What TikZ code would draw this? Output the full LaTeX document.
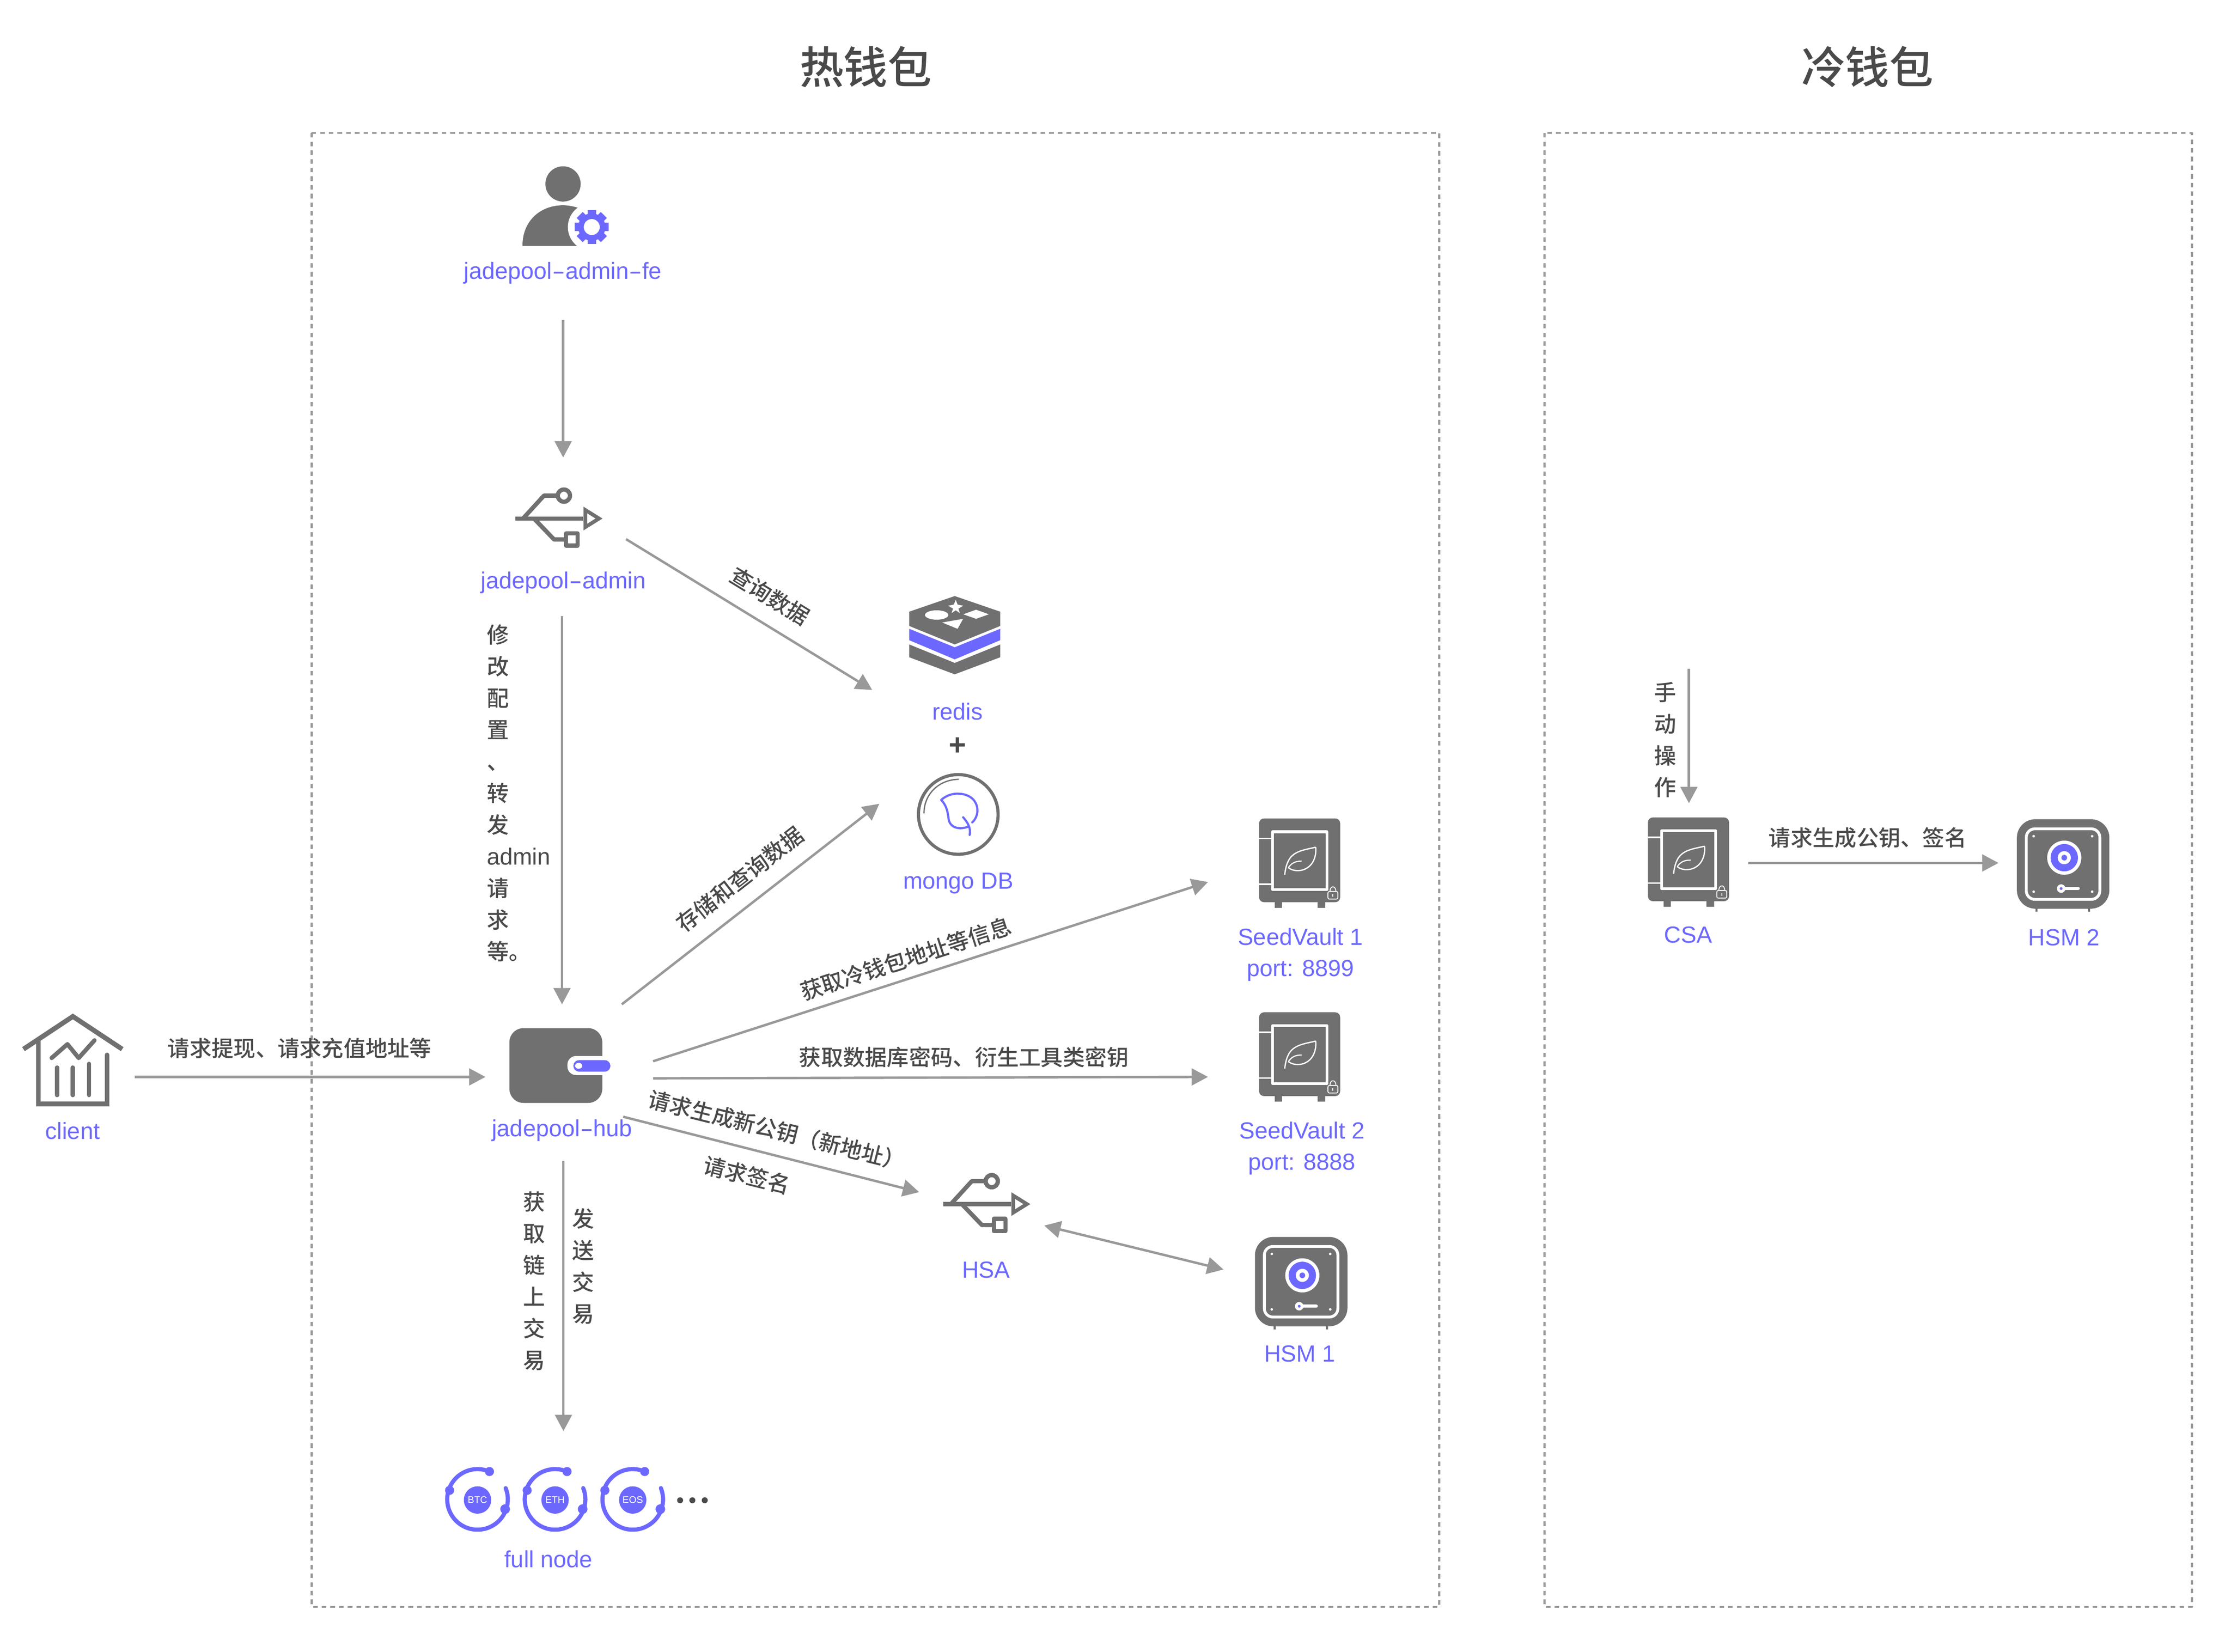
\documentclass[tikz,border=0pt]{standalone}
\usepackage{fontspec}
\setmainfont{Liberation Sans}
\newfontfamily\cjk[UprightFont=* Medium]{Noto Sans CJK SC}
\usetikzlibrary{arrows.meta}
\definecolor{iconsgray}{HTML}{707070}
\definecolor{linegray}{HTML}{999999}
\definecolor{textgray}{HTML}{4A4A4A}
\definecolor{jadeblue}{HTML}{6C68FF}
\newcommand{\hy}{\scalebox{1.7}[1]{-}}
\tikzset{
	lbl/.style={text=jadeblue,inner sep=0pt,font=\fontsize{16.4}{22}\selectfont},
	note/.style={text=textgray,inner sep=0pt,align=center,font=\cjk\fontsize{15.45}{22.25}\selectfont},
	title/.style={text=textgray,inner sep=0pt,font=\cjk\fontsize{31}{36}\selectfont},
	flow/.style={->,draw=linegray,line width=1.7pt},
	frame/.style={draw=linegray,line width=1.4pt,dash pattern=on 3.2pt off 2.9pt},
	usbicon/.pic={
		\begin{scope}[draw=iconsgray,line width=3pt]
		\draw (-30.7,0)--(17,0);
		\draw (-25.2,0)--(-10.5,-16.1)--(-1,-16.1);
		\draw (-17.5,0)--(-3.4,14.7)--(5,14.7);
		\draw (3.5,-16.1) circle (4.3);
		\draw (5,10.4) rectangle (13.2,19);
		\draw[line width=2.6pt,line join=miter,miter limit=6] (18.6,-6)--(28.2,0)--(18.6,6)--cycle;
		\end{scope}
	},
	vaulticon/.pic={
		\fill[iconsgray,rounded corners=3.5pt] (0,0) rectangle (57,58.9);
		\fill[iconsgray] (11,58) rectangle (16.1,62.8) (41.1,58) rectangle (46.5,62.8);
		\draw[white,line width=1.9pt] (9.5,9.4) rectangle (47.6,50.1);
		\draw[white,line width=1.1pt] (0,14.1)--(9,14.1) (0,46.2)--(9,46.2);
		\draw[white,line width=0.9pt] (39.8,20.2) .. controls (33,22) and (24,22.5) .. (20.5,30) .. controls (19,33) and (18.5,36) .. (18,39.6);
		\draw[white,line width=0.9pt] (39.8,20.2) .. controls (40.5,28) and (37,35) .. (29.5,36.5) .. controls (26,37) and (23,36.5) .. (20.6,34.6);
		\draw[white,line width=0.8pt] (20.6,34.6) .. controls (23,31) and (26,30) .. (30,30);
		\draw[white,line width=0.6pt,rounded corners=1pt] (48.4,51.4) rectangle (55.4,56.7);
		\draw[white,line width=0.6pt] (49.8,51.4) .. controls (49.8,47) and (54,47) .. (54,51.4);
		\draw[white,line width=0.6pt] (51.9,53.2)--(51.9,55);
	},
	hsmicon/.pic={
		\fill[iconsgray,rounded corners=13pt] (-32.5,-31.45) rectangle (32.5,31.45);
		\fill[iconsgray] (-19.4,30) rectangle (-18,33.6) (17.5,30) rectangle (18.9,33.6);
		\draw[white,line width=2pt,rounded corners=6pt] (-25.9,-24.7) rectangle (25.8,24.9);
		\foreach \sx in {-20.7,20.4}
			\foreach \sy in {-19.5,19.5}
				\fill[white] (\sx,\sy) circle (0.9);
		\fill[white] (0.8,-4.4) circle (12);
		\fill[jadeblue] (0.8,-4.4) circle (9.6);
		\fill[white] (0.8,-4.4) circle (4.6);
		\fill[jadeblue] (0.8,-4.4) circle (2);
		\draw[white,line width=2.2pt,line cap=round] (-1.4,17.3)--(10.6,17.3);
		\fill[white] (-1.4,17.3) circle (3);
		\fill[jadeblue] (-1.4,17.3) circle (1);
	},
	coinicon/.pic={
		\draw[jadeblue,line width=2.9pt,line cap=round] (8.4,-19.6) arc[start angle=66.8,end angle=381.9,radius=21.3pt];
		\fill[jadeblue] (8.4,-19.6) circle (3.2) (-19.6,-6.4) circle (3.2) (19.4,6.8) circle (3.4) (0,0.4) circle (9.6);
	},
}
\begin{document}
\begin{tikzpicture}[x=1pt,y=-1pt,>={Triangle[length=11.5pt,width=11.8pt]},line join=round]
	\useasboundingbox (0,0) rectangle (1568,1161);
	\draw[frame] (219,93.5) rectangle (1011.5,1129.5);
	\draw[frame] (1085.5,93.5) rectangle (1540.5,1129.5);
	\node[title] (hotTitle) at (608.5,47) {热钱包};
	\node[title] (coldTitle) at (1312.5,47) {冷钱包};
	% admin front end
	\fill[iconsgray] (395.7,129.3) circle (12.4);
	\fill[iconsgray] (367.2,172.8) .. controls (367.2,155) and (380,144.3) .. (395.7,144.3) .. controls (399,144.3) and (403,145) .. (406,146) -- (406,172.8) -- cycle;
	\fill[white] (415.9,159.6) circle (16.8);
	\foreach \a in {0,45,90,135}
		\fill[jadeblue,rotate around={\a:(415.9,159.6)}] (412.9,147.6) rectangle (418.9,171.6);
	\fill[jadeblue] (415.9,159.6) circle (9.6);
	\fill[white] (415.9,159.6) circle (5.6);
	\node[lbl] (adminFe) at (395.5,192) {jadepool\hy admin\hy fe};
	% admin
	\pic at (392.8,364.5) {usbicon};
	\node[lbl] (admin) at (396,409.5) {jadepool\hy admin};
	% redis
	\fill[iconsgray] (671,419)--(703,430)--(703,440)--(671,453)--(639,440)--(639,430)--cycle;
	\fill[jadeblue] (639,442)--(671,455)--(703,442)--(703,450)--(671,463.5)--(639,450)--cycle;
	\fill[iconsgray] (639,453)--(671,466)--(703,453)--(703,462)--(671,474)--(639,462)--cycle;
	\fill[white] (658.3,432.3) ellipse (8.2 and 3.3);
	\fill[white] (677,431.8)--(686,428.6)--(695,431.8)--(686,435)--cycle;
	\fill[white] (662.2,437.6)--(676.9,435)--(673,442)--cycle;
	\fill[white] (671.7,421.6)--(673,425)--(677,425.8)--(673.6,427.8)--(674.6,431)--(671.7,429)--(668.8,431)--(669.8,427.8)--(666.4,425.8)--(670.4,425)--cycle;
	\node[lbl] (redis) at (673,500) {redis};
	\node[text=textgray,inner sep=0pt,font=\bfseries\fontsize{21}{24}\selectfont] (plus) at (673,524.5) {+};
	% mongo
	\draw[iconsgray,line width=2.2pt] (673.5,572.5) circle (28);
	\draw[iconsgray,line width=0.9pt] (649.4,571.7) .. controls (649.4,558) and (660,548) .. (673.8,547.8);
	\draw[jadeblue,line width=1.5pt,line cap=round] (683.3,578.1) .. controls (690,572) and (688,558) .. (673,557.9) .. controls (668,557.9) and (664,560) .. (661.5,562.3) .. controls (665,566) and (666,570) .. (666.6,575) .. controls (667,581) and (673,584) .. (680.8,581);
	\draw[jadeblue,line width=1.5pt,line cap=round] (676.9,574.5) .. controls (680,578) and (682.5,582) .. (681.5,586.9);
	\node[lbl] (mongo) at (673.5,621) {mongo DB};
	% vaults
	\pic at (884.9,575.3) {vaulticon};
	\node[lbl,align=center] (seedOne) at (914,671) {SeedVault 1\\port: 8899};
	\pic at (884.9,711.6) {vaulticon};
	\node[lbl,align=center] (seedTwo) at (915,807.3) {SeedVault 2\\port: 8888};
	\pic at (1158.2,574.6) {vaulticon};
	\node[lbl] (csa) at (1186.5,657) {CSA};
	% hsa and hsm
	\pic at (693.5,846.4) {usbicon};
	\node[lbl] (hsa) at (693,892.5) {HSA};
	\pic at (914.5,900.9) {hsmicon};
	\node[lbl] (hsmOne) at (913.5,951.5) {HSM 1};
	\pic at (1450,607.3) {hsmicon};
	\node[lbl] (hsmTwo) at (1450.5,659) {HSM 2};
	% client
	\draw[iconsgray,line width=3.4pt,line join=miter] (16.5,737.5)--(51.2,714.5)--(85.9,737.5);
	\draw[iconsgray,line width=3.2pt,line cap=round] (26.9,731)--(26.9,776) (75.2,741.5)--(75.2,776);
	\fill[iconsgray] (25.3,774.3) rectangle (76.8,777.8);
	\draw[iconsgray,line width=3pt,line cap=round] (36.3,743.7)--(47.4,734)--(55.3,743.7)--(66.4,731.3);
	\draw[iconsgray,line width=3pt,line cap=round] (40.1,750.4)--(40.1,769.8) (51.2,750.4)--(51.2,769.8) (62.6,747.8)--(62.6,769.8);
	\node[lbl] (client) at (51,795) {client};
	% hub
	\fill[iconsgray,rounded corners=10pt] (358,722.7) rectangle (423.3,775.3);
	\fill[white,rounded corners=6pt] (398.8,742.3) rectangle (436,755.7);
	\fill[jadeblue,rounded corners=4pt] (403,745.2) rectangle (429,753.3);
	\fill[white] (406.7,749.2) ellipse (2.5 and 2.1);
	\node[lbl] (hub) at (395,794.5) {jadepool\hy hub};
	% full nodes
	\foreach \cx/\coin in {335.6/BTC,390.1/ETH,444.7/EOS}{
		\pic at (\cx,1054) {coinicon};
		\node[text=white,inner sep=0pt,font=\fontsize{6.8}{8}\selectfont] (coin\coin) at (\cx,1054.4) {\coin};
	}
	\foreach \dx in {478,486.6,495.3}
		\fill[textgray] (\dx,1054.6) circle (2.1);
	\node[lbl] (fullNode) at (385.5,1096) {full node};
	% connector ends
	\coordinate (feOut) at (395.8,225);
	\coordinate (adminIn) at (395.8,321.6);
	\coordinate (adminOut) at (395,433);
	\coordinate (hubIn) at (395,706);
	\coordinate (clientOut) at (94.8,757);
	\coordinate (hubLeft) at (341.2,757);
	\coordinate (adminRedis) at (440,379);
	\coordinate (redisIn) at (613,485);
	\coordinate (hubMongo) at (437,706);
	\coordinate (mongoIn) at (618,565);
	\coordinate (hubSeedOne) at (459,746);
	\coordinate (seedOneIn) at (849,620);
	\coordinate (hubSeedTwo) at (459,758);
	\coordinate (seedTwoIn) at (849,757);
	\coordinate (hubHsa) at (438,785);
	\coordinate (hsaIn) at (646,838);
	\coordinate (hsaOut) at (733.9,861.5);
	\coordinate (hsmOneIn) at (859.9,892.4);
	\coordinate (hubNode) at (396,816);
	\coordinate (nodeIn) at (396,1006);
	\coordinate (manualStart) at (1187,470);
	\coordinate (csaIn) at (1187,564.6);
	\coordinate (csaOut) at (1228.7,606.6);
	\coordinate (hsmTwoIn) at (1404.6,606.6);
	\draw[flow] (feOut)--(adminIn);
	\draw[flow] (adminOut)--(hubIn);
	\draw[flow] (clientOut)--(hubLeft);
	\draw[flow] (adminRedis)--(redisIn);
	\draw[flow] (hubMongo)--(mongoIn);
	\draw[flow] (hubSeedOne)--(seedOneIn);
	\draw[flow] (hubSeedTwo)--(seedTwoIn);
	\draw[flow] (hubHsa)--(hsaIn);
	\draw[flow,<->] (hsaOut)--(hsmOneIn);
	\draw[flow] (hubNode)--(nodeIn);
	\draw[flow] (manualStart)--(csaIn);
	\draw[flow] (csaOut)--(hsmTwoIn);
	% connector texts
	\node[note] (noteClient) at (210.6,737) {请求提现、请求充值地址等};
	\node[note,rotate=-31.5] (noteQuery) at (541,419) {查询数据};
	\node[note,anchor=west,align=left] (noteConfig) at (342,557.5) {修\\改\\配\\置\\、\\转\\发\\{\rmfamily\fontsize{16.4}{22.25}\selectfont admin}\\请\\求\\等。};
	\node[note,rotate=38] (noteStore) at (520,618) {存储和查询数据};
	\node[note,rotate=17.9] (noteAddr) at (636.5,674) {获取冷钱包地址等信息};
	\node[note] (noteKeys) at (677.5,743) {获取数据库密码、衍生工具类密钥};
	\node[note,rotate=-14] (noteNew) at (546,794.5) {请求生成新公钥（新地址）};
	\node[note,rotate=-14] (noteSign) at (525,826) {请求签名};
	\node[note] (noteChain) at (375.5,900.5) {获\\取\\链\\上\\交\\易};
	\node[note] (noteSend) at (410,890) {发\\送\\交\\易};
	\node[note] (noteManual) at (1170.5,520) {手\\动\\操\\作};
	\node[note] (noteCold) at (1312.6,589) {请求生成公钥、签名};
\end{tikzpicture}
\end{document}
